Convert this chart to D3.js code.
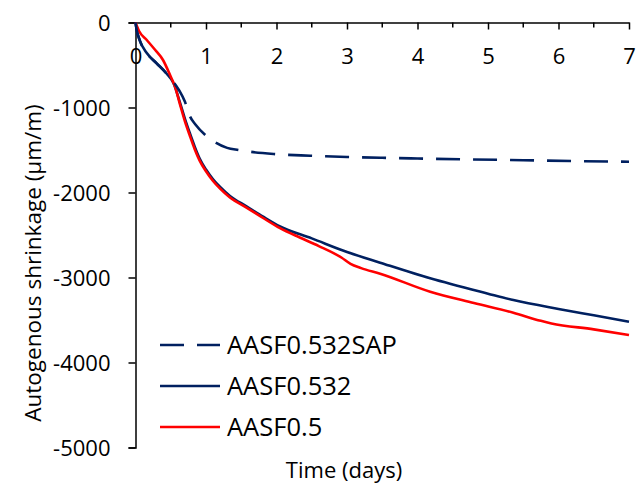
<!DOCTYPE html>
<html>
<head>
<meta charset="utf-8">
<script src="https://cdn.jsdelivr.net/npm/d3@7"></script>
<style>
  html, body { margin: 0; padding: 0; background: #fff; }
  svg { display: block; }
  text { font-family: "Open Sans", sans-serif; fill: #000; }
</style>
</head>
<body>
<svg id="chart" width="643" height="486"></svg>
<script>
// ---- data ----
const seriesNames = ["AASF0.532SAP", "AASF0.532", "AASF0.5"];

const sapDays   = [0, 0.02, 0.06, 0.16, 0.30, 0.44, 0.54, 0.62, 0.70, 0.77, 0.85, 0.99, 1.13, 1.30, 1.46, 1.62, 1.96, 2.48, 3.0, 3.5, 4.0, 4.7, 5.5, 6.2, 7.0];
const sapValues = [0, -100, -210, -360, -480, -600, -700, -800, -930, -1100, -1200, -1324, -1410, -1475, -1500, -1520, -1547, -1567, -1582, -1592, -1600, -1610, -1620, -1630, -1638];

const s532Days   = [0, 0.02, 0.06, 0.16, 0.30, 0.44, 0.54, 0.63, 0.70, 0.77, 0.84, 0.91, 1.0, 1.10, 1.20, 1.34, 1.58, 1.81, 2.05, 2.5, 3.0, 3.47, 4.18, 5.0, 5.36, 6.0, 6.5, 7.0];
const s532Values = [0, -100, -210, -360, -480, -600, -715, -940, -1130, -1300, -1460, -1600, -1730, -1845, -1935, -2040, -2165, -2285, -2400, -2540, -2700, -2826, -3010, -3190, -3265, -3370, -3445, -3520];

const s05Days   = [0, 0.05, 0.16, 0.28, 0.39, 0.49, 0.56, 0.63, 0.70, 0.77, 0.84, 0.91, 1.0, 1.10, 1.20, 1.34, 1.58, 1.81, 2.05, 2.33, 2.6, 2.92, 3.05, 3.2, 3.47, 4.18, 4.8, 5.36, 5.75, 5.9, 6.5, 7.0];
const s05Values = [0, -100, -206, -324, -441, -618, -755, -960, -1160, -1330, -1490, -1625, -1750, -1865, -1955, -2060, -2180, -2300, -2420, -2530, -2630, -2765, -2840, -2890, -2955, -3167, -3300, -3414, -3510, -3540, -3610, -3676];

const xTicks = [0, 1, 2, 3, 4, 5, 6, 7];
const xMinorTicks = [0.5, 1.5, 2.5, 3.5, 4.5, 5.5, 6.5];
const yTicks = [0, -1000, -2000, -3000, -4000, -5000];

const xTitle = "Time (days)";
const yTitle = "Autogenous shrinkage (μm/m)";

const colors = ["#002060", "#002060", "#ff0000"];
const dashes = ["24,13", null, null];

// ---- layout ----
const svg = d3.select("#chart");
const x = d3.scaleLinear().domain([0, 7]).range([135.5, 629]);
const y = d3.scaleLinear().domain([0, -5000]).range([22.5, 447.5]);

// Y axis
const yAxis = svg.append("g")
  .attr("transform", `translate(${x(0)},0)`)
  .call(d3.axisLeft(y).tickValues(yTicks).tickSize(7).tickPadding(0).tickFormat(d3.format("d")));
yAxis.select(".domain").attr("stroke", "#000").attr("stroke-width", 1.5);
yAxis.selectAll(".tick line").attr("stroke", "#000").attr("stroke-width", 1.5);
yAxis.selectAll(".tick text")
  .attr("x", -25)
  .attr("dy", "0.36em")
  .style("font-size", "22px")
  .style("font-family", "'Open Sans', sans-serif")
  .attr("fill", "#000")
  .text(d => d === 0 ? "0" : "-" + Math.abs(d));

// X axis (at y = 0, ticks pointing down)
const xAxis = svg.append("g")
  .attr("transform", `translate(0,${y(0)})`)
  .call(d3.axisBottom(x).tickValues(xTicks).tickSize(7).tickSizeOuter(0).tickPadding(0).tickFormat(d3.format("d")));
xAxis.select(".domain").attr("stroke", "#000").attr("stroke-width", 1.5);
xAxis.selectAll(".tick line").attr("stroke", "#000").attr("stroke-width", 1.5);
xAxis.selectAll(".tick text")
  .attr("y", 41)
  .attr("dy", 0)
  .style("font-size", "22px")
  .style("font-family", "'Open Sans', sans-serif")
  .attr("fill", "#000");
// minor ticks
svg.append("g").selectAll("line").data(xMinorTicks).join("line")
  .attr("x1", d => x(d)).attr("x2", d => x(d))
  .attr("y1", y(0)).attr("y2", y(0) + 5)
  .attr("stroke", "#000").attr("stroke-width", 1.5);

// lines
const seriesData = [
  sapDays.map((d, i) => [d, sapValues[i]]),
  s532Days.map((d, i) => [d, s532Values[i]]),
  s05Days.map((d, i) => [d, s05Values[i]])
];
const line = d3.line().x(d => x(d[0])).y(d => y(d[1])).curve(d3.curveMonotoneX);

const order = [1, 2, 0];
order.forEach(i => {
  svg.append("path")
    .datum(seriesData[i])
    .attr("fill", "none")
    .attr("stroke", colors[i])
    .attr("stroke-width", 2.6)
    .attr("stroke-dasharray", dashes[i])
    .attr("d", line);
});

// legend
const legendY = [345, 386, 427];
const leg = svg.append("g");
seriesNames.forEach((name, i) => {
  leg.append("line")
    .attr("x1", 160).attr("x2", 220)
    .attr("y1", legendY[i]).attr("y2", legendY[i])
    .attr("stroke", colors[i]).attr("stroke-width", 2.6)
    .attr("stroke-dasharray", dashes[i]);
  leg.append("text")
    .attr("x", 227).attr("y", legendY[i] + 9)
    .style("font-size", "25.5px")
    .text(name);
});

// axis titles
svg.append("text")
  .attr("x", 344).attr("y", 478)
  .attr("text-anchor", "middle")
  .style("font-size", "22px")
  .text(xTitle);
svg.append("text")
  .attr("transform", "translate(41,263) rotate(-90)")
  .attr("text-anchor", "middle")
  .style("font-size", "22.5px")
  .text(yTitle);
</script>
</body>
</html>
